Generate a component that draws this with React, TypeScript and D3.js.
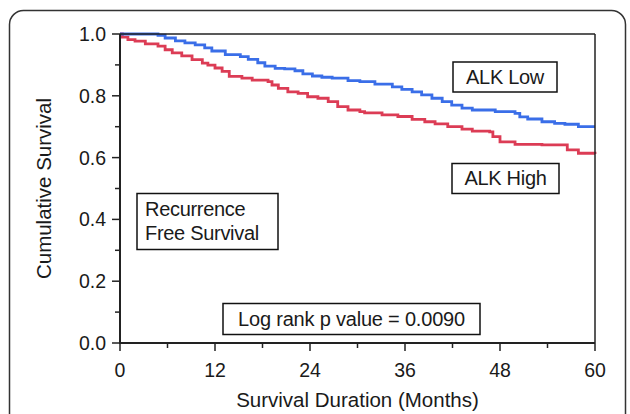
import React from "react";
import * as d3 from "d3";

// ALK Low (blue) Kaplan-Meier steps: months, survival
const lowMonths = [0, 4.8, 5.7, 7.0, 8.2, 9.5, 10.7, 11.6, 13.3, 15.2, 16.2, 17.4, 18.3, 19.6, 20.8, 22.1, 23.1, 24.3, 25.5, 26.8, 28.8, 30.3, 32.2, 34.4, 35.6, 36.9, 38.1, 39.4, 40.7, 41.9, 43.2, 44.5, 47.4, 49.9, 50.5, 51.5, 53.3, 54.9, 56.2, 57.9, 60];
const lowSurvival = [1.0, 0.996, 0.987, 0.978, 0.971, 0.965, 0.955, 0.945, 0.933, 0.927, 0.918, 0.907, 0.896, 0.889, 0.887, 0.881, 0.871, 0.864, 0.86, 0.857, 0.849, 0.846, 0.838, 0.829, 0.821, 0.813, 0.803, 0.792, 0.781, 0.77, 0.76, 0.754, 0.749, 0.743, 0.732, 0.725, 0.716, 0.711, 0.708, 0.7, 0.7];

// ALK High (red)
const highMonths = [0, 0.3, 1.0, 1.9, 3.2, 4.8, 5.7, 6.6, 7.8, 9.1, 10.4, 11.1, 12.0, 12.9, 13.8, 15.4, 16.7, 18.7, 19.2, 20.0, 21.2, 22.5, 23.7, 25.0, 26.3, 27.5, 28.8, 30.3, 30.9, 33.1, 35.1, 36.9, 38.5, 39.8, 41.4, 43.2, 44.5, 46.7, 47.1, 48.0, 49.9, 53.3, 56.5, 57.9, 60];
const highSurvival = [1.0, 0.99, 0.982, 0.977, 0.968, 0.961, 0.949, 0.939, 0.929, 0.917, 0.906, 0.899, 0.89, 0.879, 0.863, 0.857, 0.851, 0.846, 0.835, 0.824, 0.813, 0.808, 0.797, 0.792, 0.781, 0.765, 0.754, 0.749, 0.745, 0.738, 0.733, 0.724, 0.716, 0.709, 0.7, 0.692, 0.686, 0.683, 0.668, 0.651, 0.643, 0.641, 0.625, 0.614, 0.612];

const xTicks = [0, 12, 24, 36, 48, 60];
const xMinorTicks = [6, 18, 30, 42, 54];
const yTicks = [0, 0.2, 0.4, 0.6, 0.8, 1.0];
const yMinorTicks = [0.1, 0.3, 0.5, 0.7, 0.9];

const FONT = "'Liberation Sans', Arial, sans-serif";
const TXT = "#1a1a1a";
const FS = 20;

export default function App() {
  const x0 = 120, x1 = 595, y0 = 343, y1 = 34;
  const x = d3.scaleLinear().domain([0, 60]).range([x0, x1]);
  const y = d3.scaleLinear().domain([0, 1]).range([y0, y1]);
  const line = d3
    .line<[number, number]>()
    .x((d) => x(d[0]))
    .y((d) => y(d[1]))
    .curve(d3.curveStepAfter);
  const lowPts = lowMonths.map((m, i) => [m, lowSurvival[i]] as [number, number]);
  const highPts = highMonths.map((m, i) => [m, highSurvival[i]] as [number, number]);

  return (
    <svg
      width={630}
      height={414}
      style={{ position: "absolute", left: 0, top: 0, background: "#fff" }}
      fontFamily={FONT}
    >
      <rect x={0} y={0} width={630} height={414} fill="#fff" />
      <rect x={9.5} y={10.5} width={616} height={460} rx={14} fill="none" stroke="#333" strokeWidth={1.5} />

      {/* curves */}
      <path d={line(highPts) || ""} fill="none" stroke="#dc3c55" strokeWidth={2.8} />
      <path d={line(lowPts) || ""} fill="none" stroke="#3a6ee8" strokeWidth={2.8} />

      {/* frame top / right */}
      <line x1={x0} x2={x1} y1={y1} y2={y1} stroke="#222" strokeWidth={1.5} />
      <line x1={x1} x2={x1} y1={y1} y2={y0} stroke="#222" strokeWidth={1.5} />
      {/* axes */}
      <line x1={x0} x2={x0} y1={y1} y2={y0 + 1} stroke="#222" strokeWidth={2} />
      <line x1={x0 - 1} x2={x1} y1={y0} y2={y0} stroke="#222" strokeWidth={2} />

      {yTicks.map((t) => (
        <g key={"y" + t}>
          <line x1={x0 - 8} x2={x0} y1={y(t)} y2={y(t)} stroke="#222" strokeWidth={1.5} />
          <text x={106} y={y(t)} dy="0.36em" textAnchor="end" fontSize={19.5} fill={TXT}>
            {t.toFixed(1)}
          </text>
        </g>
      ))}
      {yMinorTicks.map((t) => (
        <line key={"ym" + t} x1={x0 - 5} x2={x0} y1={y(t)} y2={y(t)} stroke="#222" strokeWidth={1.5} />
      ))}
      {xTicks.map((t) => (
        <g key={"x" + t}>
          <line x1={x(t)} x2={x(t)} y1={y0} y2={y0 + 8} stroke="#222" strokeWidth={1.5} />
          <text x={x(t)} y={377} textAnchor="middle" fontSize={19.5} fill={TXT}>
            {t}
          </text>
        </g>
      ))}
      {xMinorTicks.map((t) => (
        <line key={"xm" + t} x1={x(t)} x2={x(t)} y1={y0} y2={y0 + 5} stroke="#222" strokeWidth={1.5} />
      ))}

      <text x={(x0 + x1) / 2} y={407} textAnchor="middle" fontSize={20.5} fill={TXT}>
        Survival Duration (Months)
      </text>
      <text
        transform={`translate(51, ${(y0 + y1) / 2}) rotate(-90)`}
        textAnchor="middle"
        fontSize={20.5}
        fill={TXT}
      >
        Cumulative Survival
      </text>

      {/* annotation boxes */}
      <rect x={453} y={62} width={104} height={30} fill="#fff" stroke="#111" strokeWidth={1.5} />
      <text x={505} y={84} textAnchor="middle" fontSize={FS} letterSpacing={-0.3} fill={TXT}>ALK Low</text>

      <rect x={452} y={163.5} width={107} height={30} fill="#fff" stroke="#111" strokeWidth={1.5} />
      <text x={505.5} y={185} textAnchor="middle" fontSize={FS} letterSpacing={-0.3} fill={TXT}>ALK High</text>

      <rect x={137} y={193.5} width={141} height={56} fill="#fff" stroke="#111" strokeWidth={1.5} />
      <text x={145} y={216} fontSize={FS} letterSpacing={-0.3} fill={TXT}>Recurrence</text>
      <text x={145} y={240} fontSize={FS} letterSpacing={-0.3} fill={TXT}>Free Survival</text>

      <rect x={223} y={303.5} width={257} height={31} fill="#fff" stroke="#111" strokeWidth={1.5} />
      <text x={351.5} y={326} textAnchor="middle" fontSize={FS} letterSpacing={-0.2} fill={TXT}>Log rank p value = 0.0090</text>
    </svg>
  );
}
